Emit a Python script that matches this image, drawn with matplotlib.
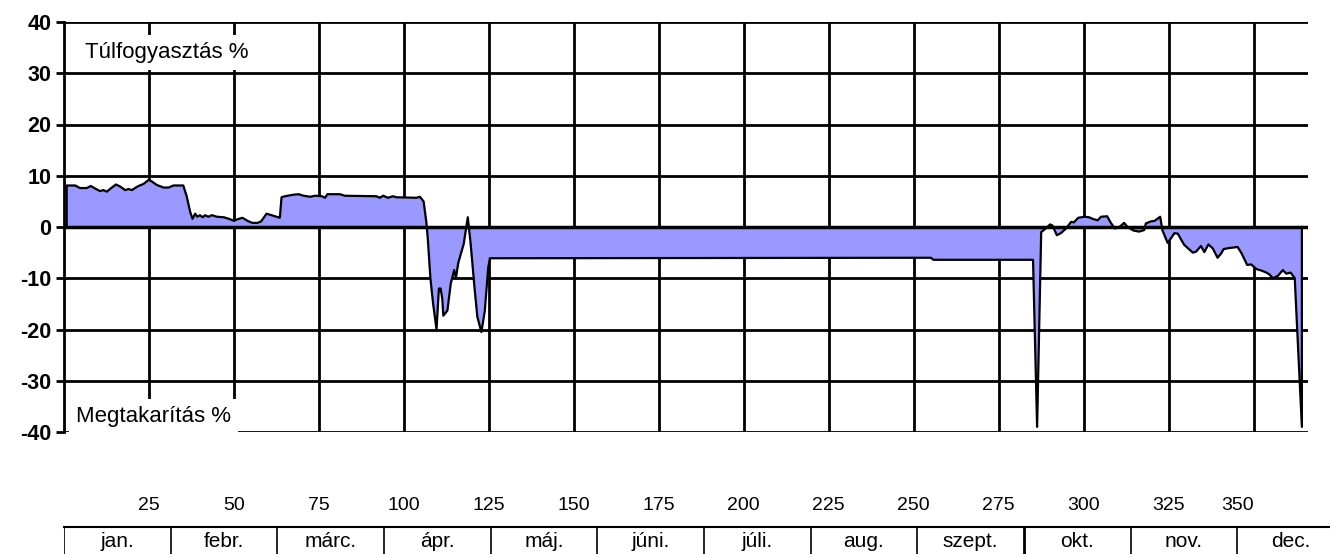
import numpy as np
import matplotlib
matplotlib.use("Agg")
import matplotlib.pyplot as plt

plt.rcParams['font.family'] = ['Liberation Sans', 'DejaVu Sans']

# day of year and deviation in percent
days = [0.8, 3.3, 4.7, 6.7, 7.9, 9.2, 10.6, 11.6, 12.6, 13.5, 15.3, 16.5, 18.0, 19.0,
        20.0, 20.9, 21.9, 23.4, 24.9, 25.8, 27.3, 29.3, 30.8, 32.2, 35.1, 36.1, 37.1,
        37.8, 38.6, 39.2, 40.0, 40.8, 41.5, 42.5, 43.5, 45.0, 47.0, 48.5, 50.0, 51.0,
        52.5, 54.0, 55.4, 56.9, 58.0, 59.6, 61.6, 63.5, 64.0, 65.0, 67.5, 69.0, 70.5,
        72.4, 73.9, 75.9, 76.8, 77.5, 81.2, 82.6, 91.9, 92.9, 93.9, 95.3, 96.8, 97.8,
        103.7, 104.7, 105.8, 106.6, 107.0, 107.8, 108.6, 109.6, 110.3, 110.8, 111.3,
        111.6, 112.8, 113.8, 114.8, 115.3, 116.0, 117.6, 118.8, 119.6, 120.8, 121.6,
        122.8, 123.8, 124.8, 125.3, 255.0, 255.8, 285.1, 286.3, 287.5, 288.8, 290.1,
        290.8, 292.1, 293.3, 294.8, 296.3, 297.1, 298.4, 300.2, 301.6, 302.6, 304.1,
        305.1, 306.9, 308.0, 309.2, 310.5, 311.9, 312.9, 314.7, 316.3, 317.8, 318.3,
        319.8, 320.9, 322.5, 323.2, 324.7, 325.9, 326.7, 327.7, 328.7, 329.6, 331.1,
        332.1, 333.1, 334.5, 335.5, 336.7, 338.0, 339.4, 340.4, 341.2, 342.9, 345.3,
        346.5, 348.1, 349.3, 350.8, 352.3, 353.8, 354.7, 355.7, 357.2, 358.6, 359.6,
        360.9, 362.1, 364.2]
values = [8.1, 8.1, 7.6, 7.6, 8.0, 7.5, 7.0, 7.2, 6.9, 7.4, 8.3, 7.9, 7.2, 7.4,
          7.2, 7.6, 8.0, 8.4, 9.2, 8.9, 8.2, 7.7, 7.7, 8.1, 8.1, 6.0, 3.0,
          1.6, 2.6, 2.0, 2.3, 1.9, 2.3, 2.0, 2.3, 2.0, 1.9, 1.6, 1.2, 1.5,
          1.8, 1.2, 0.8, 0.8, 1.1, 2.6, 2.2, 1.8, 5.8, 6.0, 6.3, 6.4, 6.1,
          5.9, 6.1, 6.0, 5.7, 6.4, 6.4, 6.1, 6.0, 5.7, 6.1, 5.7, 6.0, 5.8,
          5.7, 5.9, 5.0, 1.0, -2.0, -10.0, -15.0, -20.0, -12.0, -12.0, -14.0,
          -17.3, -16.3, -11.0, -8.4, -10.0, -7.0, -3.3, 1.9, -3.0, -12.0, -17.5,
          -20.5, -16.4, -8.0, -6.1, -6.0, -6.4, -6.4, -39.0, -1.0, -0.3, 0.5,
          0.3, -1.6, -1.2, -0.3, 1.0, 0.9, 1.8, 2.0, 1.9, 1.6, 1.3,
          2.0, 2.1, 0.8, -0.3, 0.0, 0.8, 0.0, -0.7, -0.9, -0.6, 0.7,
          1.1, 1.2, 2.0, -0.7, -3.1, -2.0, -1.2, -1.3, -2.5, -3.5, -4.4,
          -5.0, -4.8, -3.7, -4.9, -3.4, -4.2, -6.0, -5.2, -4.3, -4.1, -3.9,
          -5.2, -7.4, -7.3, -8.2, -8.5, -8.9, -9.3, -10.0, -9.5, -8.4, -9.1,
          -8.9, -10.0, -39.0]

x_ticks = [25, 50, 75, 100, 125, 150, 175, 200, 225, 250, 275, 300, 325, 350]
y_ticks = [-40, -30, -20, -10, 0, 10, 20, 30, 40]
months = ['jan.', 'febr.', 'márc.', 'ápr.', 'máj.', 'júni.', 'júli.', 'aug.',
          'szept.', 'okt.', 'nov.', 'dec.']

W, H = 1330, 554
fig = plt.figure(figsize=(W / 100, H / 100), dpi=100)
ax = fig.add_axes([64 / W, (H - 432) / H, 1244 / W, 410 / H])

d = np.array(days)
v = np.array(values)

# grid
for yt in y_ticks:
    ax.axhline(yt, color='black', lw=2, zorder=1)
for xt in x_ticks:
    ax.axvline(xt, color='black', lw=2, zorder=1)

# area + outline (closed to zero at both ends)
ax.fill_between(d, v, 0, color='#9999FF', lw=0, zorder=2)
ax.axhline(0, color='black', lw=2.5, zorder=3)
xs = np.concatenate([[d[0]], d, [d[-1]]])
ys = np.concatenate([[0], v, [0]])
ax.plot(xs, ys, color='black', lw=1.6, zorder=4)

ax.set_xlim(0, 366)
ax.set_ylim(-40, 40)
for s in ['top', 'right', 'bottom']:
    ax.spines[s].set_visible(False)
ax.spines['left'].set_linewidth(2)
ax.spines['left'].set_zorder(5)

ax.set_yticks(y_ticks)
ax.set_yticklabels([str(t) for t in y_ticks], fontsize=15.5, fontweight='bold')
ax.tick_params(axis='y', length=6, width=2, pad=3)
ax.set_xticks(x_ticks)
ax.set_xticklabels([str(t) for t in x_ticks], fontsize=14)
ax.tick_params(axis='x', length=0, pad=47)
ax.get_xticklabels()[-1].set_horizontalalignment('right')

ax.text(6.2, 34.1, 'Túlfogyasztás %', fontsize=16, va='center', ha='left', zorder=6,
        bbox=dict(facecolor='white', edgecolor='none', pad=5))
ax.text(3.5, -36.9, 'Megtakarítás %', fontsize=16, va='center', ha='left', zorder=6,
        bbox=dict(facecolor='white', edgecolor='none', pad=5))

# month table below the chart
tab = fig.add_axes([64 / W, 0, 1280 / W, 27 / H])
tab.set_xlim(0, 12)
tab.set_ylim(0, 1)
tab.axis('off')
tab.axhline(1, color='black', lw=1.5, clip_on=False)
for i in range(13):
    tab.axvline(i, color='black', lw=1.2 if i != 9 else 2)
for i, m in enumerate(months):
    tab.text(i + 0.5, 0.45, m, ha='center', va='center', fontsize=15)

fig.savefig('out.png', dpi=100)
